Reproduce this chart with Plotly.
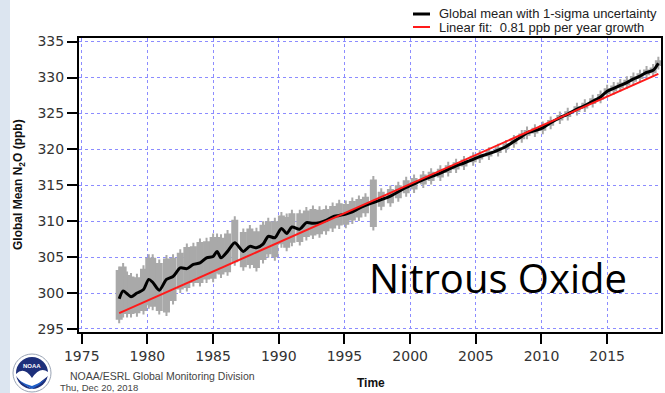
import plotly.graph_objects as go

# ---- data ----
years = [1977.85, 1978.15, 1978.45, 1978.75, 1979.2, 1979.7, 1980.1, 1980.4, 1980.9, 1981.45,
         1981.95, 1982.5, 1983.0, 1983.5, 1984.0, 1984.5, 1985.0, 1985.3, 1985.6, 1986.1,
         1986.65, 1987.3, 1987.8, 1988.3, 1988.8, 1989.2, 1989.7, 1990.2, 1990.6, 1991.0,
         1991.6, 1992.1, 1992.6, 1993.1, 1993.6, 1994.1, 1994.6, 1995.1, 1995.6, 1996.1,
         1996.6, 1997.2, 1997.8, 1998.5, 1999.1, 1999.7, 2000.3, 2001.0, 2001.6, 2002.3,
         2002.9, 2003.5, 2004.1, 2004.8, 2005.3, 2006.0, 2006.7, 2007.3, 2007.9, 2008.5,
         2008.9, 2009.5, 2010.1, 2010.7, 2011.4, 2012.0, 2012.7, 2013.3, 2013.9, 2014.5,
         2015.0, 2015.5, 2016.0, 2016.5, 2017.0, 2017.5, 2018.0, 2018.5, 2018.9]
global_mean = [299.2, 300.3, 299.9, 299.5, 300.0, 300.5, 301.9, 301.5, 300.4, 301.9,
               302.3, 303.5, 303.4, 304.0, 304.2, 304.9, 305.1, 305.8, 304.9, 305.8,
               307.0, 305.8, 306.5, 306.3, 306.8, 307.9, 307.7, 309.0, 308.3, 309.2,
               308.9, 309.8, 309.7, 309.8, 310.1, 310.6, 310.8, 311.0, 311.3, 311.8,
               312.2, 312.6, 313.0, 313.5, 314.1, 314.7, 315.2, 315.8, 316.2, 316.7,
               317.2, 317.7, 318.1, 318.6, 319.0, 319.4, 319.9, 320.4, 321.1, 321.8,
               322.3, 322.6, 323.0, 323.7, 324.4, 324.9, 325.6, 326.1, 326.7, 327.3,
               328.1, 328.5, 328.9, 329.3, 329.8, 330.2, 330.7, 331.0, 332.0]
sigma_plus = [4.0, 3.4, 2.6, 2.8, 2.2, 2.9, 3.0, 3.4, 3.8, 2.9,
              2.6, 2.1, 3.0, 2.5, 2.9, 2.3, 2.7, 2.0, 2.8, 2.5,
              3.2, 2.7, 2.5, 2.3, 2.7, 2.1, 2.3, 1.8, 2.3, 1.9,
              2.2, 1.7, 2.0, 1.8, 1.6, 1.5, 1.7, 1.4, 1.5, 1.3,
              1.2, 3.2, 1.1, 1.0, 0.9, 1.0, 0.8, 0.7, 0.7, 0.6,
              0.6, 0.5, 0.5, 0.5, 0.4, 0.4, 0.4, 0.4, 0.4, 0.4,
              0.4, 0.4, 0.4, 0.4, 0.4, 0.4, 0.4, 0.4, 0.4, 0.4,
              0.4, 0.4, 0.4, 0.4, 0.4, 0.4, 0.4, 0.4, 0.4]
sigma_minus = [2.9, 3.2, 2.8, 2.4, 2.8, 3.0, 3.6, 3.4, 2.9, 4.6,
               3.4, 3.0, 2.7, 2.6, 2.8, 3.0, 3.1, 2.6, 2.3, 2.9,
               2.7, 2.2, 2.6, 2.8, 2.2, 2.5, 2.7, 2.2, 2.0, 2.2,
               1.8, 2.0, 1.7, 1.6, 1.5, 1.6, 1.4, 1.5, 1.2, 1.3,
               1.1, 3.4, 1.0, 1.0, 0.9, 0.8, 0.8, 0.7, 0.6, 0.6,
               0.5, 0.5, 0.5, 0.4, 0.4, 0.4, 0.4, 0.4, 0.4, 0.4,
               0.4, 0.4, 0.4, 0.4, 0.4, 0.4, 0.4, 0.4, 0.4, 0.4,
               0.4, 0.4, 0.4, 0.4, 0.4, 0.4, 0.4, 0.4, 0.4]
fit_years = [1977.85, 2018.9]
fit_values = [297.2, 330.5]
x_ticks = [1975, 1980, 1985, 1990, 1995, 2000, 2005, 2010, 2015]
y_ticks = [295, 300, 305, 310, 315, 320, 325, 330, 335]

fig = go.Figure()
fig.add_trace(go.Scatter(
    x=years, y=global_mean, mode="markers",
    marker=dict(size=1, opacity=0),
    error_y=dict(type="data", symmetric=False, array=sigma_plus, arrayminus=sigma_minus,
                 color="#a9a9a9", thickness=7, width=1),
    showlegend=False, hoverinfo="skip"))
fig.add_trace(go.Scatter(
    x=years, y=global_mean, mode="lines",
    line=dict(color="black", width=3, shape="spline", smoothing=0.8),
    showlegend=False))
fig.add_trace(go.Scatter(
    x=fit_years, y=fit_values, mode="lines",
    line=dict(color="#ff1a1a", width=2),
    showlegend=False))

grid = dict(showgrid=True, gridcolor="#8c8cff", griddash="dot", gridwidth=1)
fig.update_xaxes(range=[1974.79, 2019.1], tickvals=x_ticks, ticks="outside", ticklen=10,
                 tickwidth=2, tickcolor="black", showline=True, linecolor="black",
                 linewidth=2, mirror=True, zeroline=False,
                 tickfont=dict(family="DejaVu Sans", size=14, color="#333333"), **grid)
fig.update_yaxes(range=[294.58, 335.5], tickvals=y_ticks, ticks="outside", ticklen=10,
                 tickwidth=2, tickcolor="black", showline=True, linecolor="black",
                 linewidth=2, mirror=True, zeroline=False,
                 tickfont=dict(family="DejaVu Sans", size=14, color="#333333"), **grid)

W = 582.0
H = 294.0
def px(xp):
    return (xp - 79.0) / W
def py(yp):
    return (332.0 - yp) / H

shapes = [
    # left decorative strip
    dict(type="rect", xref="paper", yref="paper", x0=px(0), x1=px(10), y0=py(393), y1=py(0),
         fillcolor="#dce5f0", line=dict(width=0), layer="below"),
    # legend samples
    dict(type="line", xref="paper", yref="paper", x0=px(413), x1=px(430), y0=py(14), y1=py(14),
         line=dict(color="black", width=3)),
    dict(type="line", xref="paper", yref="paper", x0=px(413), x1=px(430), y0=py(27), y1=py(27),
         line=dict(color="#ff1a1a", width=2)),
    # NOAA logo
    dict(type="circle", xref="paper", yref="paper", x0=px(13), x1=px(51), y0=py(392), y1=py(354),
         fillcolor="#ffffff", line=dict(color="#9aa4b5", width=1)),
    dict(type="circle", xref="paper", yref="paper", x0=px(16), x1=px(48), y0=py(389), y1=py(357),
         fillcolor="#1d2f7a", line=dict(width=0)),
    dict(type="path", xref="paper", yref="paper",
         path=f"M {px(16)},{py(374)} Q {px(24)},{py(366)} {px(32)},{py(378)} "
              f"Q {px(40)},{py(366)} {px(48)},{py(372)} L {px(48)},{py(376)} "
              f"Q {px(40)},{py(382)} {px(32)},{py(389)} Q {px(22)},{py(384)} {px(16)},{py(376)} Z",
         fillcolor="#ffffff", line=dict(width=0)),
    dict(type="path", xref="paper", yref="paper",
         path=f"M {px(18)},{py(380)} Q {px(25)},{py(386)} {px(32)},{py(389)} "
              f"Q {px(40)},{py(385)} {px(46)},{py(379)} Q {px(40)},{py(383)} {px(32)},{py(386)} "
              f"Q {px(25)},{py(384)} {px(18)},{py(380)} Z",
         fillcolor="#1f5fc8", line=dict(width=0)),
]

annotations = [
    dict(text="Global mean with 1-sigma uncertainty", xref="paper", yref="paper",
         x=px(437), y=py(13), xanchor="left", yanchor="middle", showarrow=False,
         font=dict(family="Liberation Sans", size=13, color="#222222")),
    dict(text="Linear fit:  0.81 ppb per year growth", xref="paper", yref="paper",
         x=px(437), y=py(27), xanchor="left", yanchor="middle", showarrow=False,
         font=dict(family="Liberation Sans", size=13, color="#222222")),
    dict(text="<b>Global Mean N<sub>2</sub>O (ppb)</b>", xref="paper", yref="paper",
         x=px(19), y=py(185), xanchor="center", yanchor="middle", showarrow=False,
         textangle=-90, font=dict(family="Liberation Sans", size=12, color="#111111")),
    dict(text="<b>Time</b>", xref="paper", yref="paper", x=px(371), y=py(383),
         xanchor="center", yanchor="middle", showarrow=False,
         font=dict(family="Liberation Sans", size=12, color="#111111")),
    dict(text="Nitrous Oxide", xref="paper", yref="paper", x=px(498), y=py(277),
         xanchor="center", yanchor="middle", showarrow=False,
         font=dict(family="Open Sans", size=40, color="#000000")),
    dict(text="NOAA/ESRL Global Monitoring Division", xref="paper", yref="paper",
         x=px(68), y=py(376), xanchor="left", yanchor="middle", showarrow=False,
         font=dict(family="Liberation Sans", size=10.5, color="#444444")),
    dict(text="Thu, Dec 20, 2018", xref="paper", yref="paper",
         x=px(58), y=py(387), xanchor="left", yanchor="middle", showarrow=False,
         font=dict(family="Liberation Sans", size=9.5, color="#444444")),
    dict(text="<b>NOAA</b>", xref="paper", yref="paper", x=px(32), y=py(366),
         xanchor="center", yanchor="middle", showarrow=False,
         font=dict(family="Liberation Sans", size=6, color="#ffffff")),
]

fig.update_layout(
    width=665, height=393,
    margin=dict(l=79, r=4, t=38, b=61, autoexpand=False),
    paper_bgcolor="white", plot_bgcolor="white",
    shapes=shapes, annotations=annotations, showlegend=False,
)
fig.write_html("out.html",
               config={"displayModeBar": False},
               post_script="document.body.style.margin='0';document.body.style.padding='0';")
